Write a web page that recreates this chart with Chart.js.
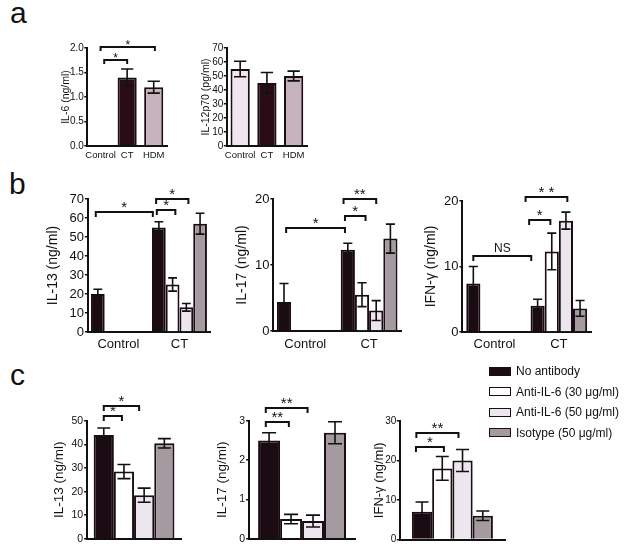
<!DOCTYPE html>
<html>
<head>
<meta charset="utf-8">
<script src="https://cdn.jsdelivr.net/npm/chart.js@4.4.0/dist/chart.umd.min.js"></script>
<style>
body { margin: 0; background: #fff; width: 626px; height: 553px; position: relative; overflow: hidden; font-family: "Liberation Sans", Arial, sans-serif; color: #111; }
canvas { position: absolute; }
.panel { position: absolute; font-size: 30px; line-height: 1; }
.legend { position: absolute; left: 489px; top: 361px; font-size: 12px; z-index: 2; }
.row { height: 20.5px; display: flex; align-items: center; }
.box { width: 20px; height: 7px; border: 1.5px solid #1b0b12; margin-right: 5px; }
</style>
</head>
<body>
<div class="panel" style="left:10px;top:-2px">a</div>
<div class="panel" style="left:9px;top:169px">b</div>
<div class="panel" style="left:10px;top:360px">c</div>
<div class="legend" id="legend"></div>
<script>
// panel a
var aCategories = ['Control', 'CT', 'HDM'];
var il6Values = [0, 1.4, 1.2];
var il6Errors = [0, 0.17, 0.12];
var il12Values = [55, 45, 50];
var il12Errors = [5.5, 7.5, 3.5];
var aColors = ['#f1e5ee', '#2a0c17', '#c7b3bb'];

// panels b and c
var treatments = ['No antibody', 'Anti-IL-6 (30 \u03bcg/ml)', 'Anti-IL-6 (50 \u03bcg/ml)', 'Isotype (50 \u03bcg/ml)'];
var colors = ['#1b0b12', '#ffffff', '#ece7ef', '#a59a9f'];
var bCategories = ['Control', 'CT'];
var il13B = [[20, 55], [null, 25], [null, 13], [null, 57]];
var il13BErr = [[2.5, 3], [0, 3.5], [0, 2], [0, 5.5]];
var il17B = [[4.4, 12.3], [null, 5.5], [null, 3.1], [null, 14]];
var il17BErr = [[2.8, 1], [0, 1.8], [0, 1.5], [0, 2.2]];
var ifnB = [[7.4, 4], [null, 12.3], [null, 17], [null, 3.6]];
var ifnBErr = [[2.6, 1], [0, 2.8], [0, 1.3], [0, 1.2]];

var cCategories = [''];
var il13C = [[44], [28.5], [18.5], [40.5]];
var il13CErr = [[3], [3], [3], [2]];
var il17C = [[2.5], [0.5], [0.45], [2.7]];
var il17CErr = [[0.2], [0.12], [0.15], [0.28]];
var ifnC = [[7], [18], [20], [6]];
var ifnCErr = [[2.5], [3], [2.8], [1.2]];

var ink = '#111';

var errorBars = {
  id: 'errorBars',
  afterDatasetsDraw: function(chart) {
    var ctx = chart.ctx, y = chart.scales.y;
    ctx.save();
    ctx.strokeStyle = ink;
    ctx.lineWidth = 1.6;
    chart.data.datasets.forEach(function(ds, di) {
      chart.getDatasetMeta(di).data.forEach(function(bar, i) {
        var v = ds.data[i], e = ds.errors[i];
        if (v == null || !e) return;
        var top = y.getPixelForValue(v + e), bot = y.getPixelForValue(v - e), cap = bar.width * 0.32;
        ctx.beginPath();
        ctx.moveTo(bar.x, top); ctx.lineTo(bar.x, bot);
        ctx.moveTo(bar.x - cap, top); ctx.lineTo(bar.x + cap, top);
        ctx.moveTo(bar.x - cap, bot); ctx.lineTo(bar.x + cap, bot);
        ctx.stroke();
      });
    });
    ctx.restore();
  }
};

function barX(chart, ref) {
  var bar = chart.getDatasetMeta(ref[0]).data[ref[1]];
  return bar.x + (ref[2] || 0) * bar.width;
}

var brackets = {
  id: 'brackets',
  afterDraw: function(chart, args, opts) {
    var ctx = chart.ctx, y = chart.scales.y;
    ctx.save();
    ctx.strokeStyle = ink;
    ctx.fillStyle = ink;
    ctx.lineWidth = opts.width;
    ctx.textAlign = 'center';
    ctx.textBaseline = 'alphabetic';
    opts.list.forEach(function(b) {
      var x1 = barX(chart, b.from), x2 = barX(chart, b.to);
      var yy = Math.round(y.getPixelForValue(b.at));
      ctx.beginPath();
      ctx.moveTo(x1, yy + opts.drop); ctx.lineTo(x1, yy); ctx.lineTo(x2, yy); ctx.lineTo(x2, yy + opts.drop);
      ctx.stroke();
      if (b.label == 'NS') {
        ctx.font = '12px "Liberation Sans", Arial';
        ctx.fillText(b.label, (x1 + x2) / 2, yy - 4);
      } else {
        ctx.font = opts.star + 'px "Liberation Sans", Arial';
        ctx.fillText(b.label, (x1 + x2) / 2, yy + opts.starDy);
      }
    });
    ctx.restore();
  }
};

function makeChart(c) {
  var titleLh = c.titleSize * 1.2;
  var left = c.titleX - titleLh / 2;
  var yW = c.plot[0] - left;
  var top = c.plot[1] - c.padTop;
  var canvas = document.createElement('canvas');
  canvas.width = Math.round(c.plot[2] - left + 4);
  canvas.height = Math.round(c.plot[3] - top + c.xH);
  canvas.style.left = left + 'px';
  canvas.style.top = top + 'px';
  document.body.appendChild(canvas);
  new Chart(canvas, {
    type: 'bar',
    data: { labels: c.labels, datasets: c.datasets },
    options: {
      responsive: false,
      animation: false,
      layout: { padding: { top: c.padTop, right: 4, left: 0, bottom: 0 } },
      plugins: {
        legend: { display: false },
        tooltip: { enabled: false },
        brackets: { list: c.brackets, width: 2, drop: c.drop || 5, star: c.star, starDy: c.starDy }
      },
      scales: {
        x: {
          grid: { display: false, drawTicks: false },
          border: { color: ink, width: 2 },
          ticks: { display: c.showX, color: ink, padding: c.xPad, font: c.xFont,
                   maxRotation: 0, minRotation: 0, autoSkip: false },
          afterFit: function(s) { s.height = c.xH; }
        },
        y: {
          min: 0, max: c.max,
          grid: { drawOnChartArea: false, color: ink, lineWidth: 1.5, tickLength: 3 },
          border: { color: ink, width: 2 },
          ticks: { stepSize: c.step, color: ink, padding: c.tickPad || 1, font: c.tickFont, autoSkip: false,
                   callback: c.fmt || function(v) { return v; } },
          title: { display: true, text: c.title, color: ink, padding: 0,
                   font: { family: '"Liberation Sans", Arial', size: c.titleSize } },
          afterFit: function(s) { s.width = yW; }
        }
      }
    },
    plugins: [errorBars, brackets]
  });
}

function groupSets(values, errors, cp) {
  return values.map(function(v, k) {
    return { label: treatments[k], data: v, errors: errors[k], backgroundColor: colors[k],
             borderColor: '#1b0b12', borderWidth: 2, borderSkipped: 'start',
             categoryPercentage: cp, barPercentage: 1 };
  });
}

function aSet(values, errors) {
  return [{ data: values, errors: errors, backgroundColor: aColors, borderColor: '#1b0b12',
            borderWidth: 2, borderSkipped: 'start', categoryPercentage: 0.72, barPercentage: 1 }];
}

var narrow = { family: '"Liberation Sans Narrow", "Arial Narrow", "Liberation Sans", Arial', size: 10 };
var narrowX = { family: '"Liberation Sans Narrow", "Arial Narrow", "Liberation Sans", Arial', size: 9.5 };
var bTick = { family: '"Liberation Sans", Arial', size: 13 };
var cTick = { family: '"Liberation Sans", Arial', size: 10.5 };

// a
makeChart({ plot: [87, 48, 167, 146], titleX: 66, titleSize: 10.5, title: 'IL-6 (ng/ml)', padTop: 14, xH: 20,
  labels: aCategories, datasets: aSet(il6Values, il6Errors), max: 2, step: 0.5,
  fmt: function(v) { return v.toFixed(1); }, tickFont: narrow, tickPad: 0.5, showX: true, xPad: 4, xFont: narrowX,
  star: 12, starDy: 2, drop: 4,
  brackets: [{ from: [0, 0, 0.19], to: [0, 1, 0], at: 1.755, label: '*' },
             { from: [0, 0, 0], to: [0, 2, 0.06], at: 2.02, label: '*' }] });
makeChart({ plot: [227, 48, 307, 146], titleX: 206.5, titleSize: 10.5, title: 'IL-12p70 (pg/ml)', padTop: 14, xH: 20,
  labels: aCategories, datasets: aSet(il12Values, il12Errors), max: 70, step: 10,
  tickFont: narrow, tickPad: 0.5, showX: true, xPad: 4, xFont: narrowX, star: 12, starDy: 2, brackets: [] });

// b
makeChart({ plot: [88, 199, 210, 332], titleX: 53.5, titleSize: 14, title: 'IL-13 (ng/ml)', padTop: 28, xH: 25,
  labels: bCategories, datasets: groupSets(il13B, il13BErr, 0.9), max: 70, step: 10,
  tickFont: bTick, showX: true, xPad: 5, xFont: bTick, star: 15, starDy: 0,
  brackets: [{ from: [0, 0, -0.15], to: [0, 1, -0.44], at: 63.2, label: '*' },
             { from: [0, 1, -0.15], to: [1, 1, 0.2], at: 64.2, label: '*' },
             { from: [0, 1, -0.2], to: [2, 1, 0.15], at: 70, label: '*' }] });
makeChart({ plot: [273, 199, 401, 331], titleX: 242, titleSize: 14, title: 'IL-17 (ng/ml)', padTop: 28, xH: 26,
  labels: bCategories, datasets: groupSets(il17B, il17BErr, 0.89), max: 20, step: 10,
  tickFont: bTick, showX: true, xPad: 6, xFont: bTick, star: 15, starDy: 0,
  brackets: [{ from: [0, 0, 0.15], to: [0, 1, -0.2], at: 15.6, label: '*' },
             { from: [0, 1, -0.2], to: [1, 1, 0.25], at: 17.4, label: '*' },
             { from: [0, 1, -0.3], to: [2, 1, 0], at: 20, label: '**' }] });
makeChart({ plot: [462, 201, 591, 332], titleX: 431, titleSize: 14, title: 'IFN-\u03b3 (ng/ml)', padTop: 28, xH: 25,
  labels: bCategories, datasets: groupSets(ifnB, ifnBErr, 0.88), max: 20, step: 10,
  tickFont: bTick, showX: true, xPad: 5, xFont: bTick, star: 15, starDy: 0,
  brackets: [{ from: [0, 0, 0], to: [0, 1, -0.45], at: 11.6, label: 'NS' },
             { from: [0, 1, -0.6], to: [1, 1, -0.1], at: 17.1, label: '*' },
             { from: [0, 1, -0.85], to: [2, 1, 0.1], at: 20.6, label: '* *' }] });

// c
makeChart({ plot: [87, 421, 181, 542], titleX: 59, titleSize: 13.5, title: 'IL-13 (ng/ml)', padTop: 30, xH: 4,
  labels: cCategories, datasets: groupSets(il13C, il13CErr, 0.86), max: 50, step: 10,
  tickFont: cTick, showX: false, xPad: 0, star: 15, starDy: 0,
  brackets: [{ from: [0, 0, 0], to: [1, 0, -0.1], at: 52, label: '*' },
             { from: [0, 0, 0], to: [2, 0, -0.25], at: 56.2, label: '*' }] });
makeChart({ plot: [249, 421, 355, 542], titleX: 222, titleSize: 13.5, title: 'IL-17 (ng/ml)', padTop: 30, xH: 4,
  labels: cCategories, datasets: groupSets(il17C, il17CErr, 0.83), max: 3, step: 1,
  tickFont: cTick, showX: false, xPad: 0, star: 15, starDy: 0,
  brackets: [{ from: [0, 0, -0.15], to: [1, 0, -0.1], at: 2.98, label: '**' },
             { from: [0, 0, -0.15], to: [2, 0, -0.25], at: 3.32, label: '**' }] });
makeChart({ plot: [400, 421, 505, 542], titleX: 380, titleSize: 13, title: 'IFN-\u03b3 (ng/ml)', padTop: 30, xH: 4,
  labels: cCategories, datasets: groupSets(ifnC, ifnCErr, 0.77), max: 30, step: 10,
  tickFont: { family: '"Liberation Sans", Arial', size: 10 }, tickPad: 0.5, showX: false, xPad: 0, star: 15, starDy: 0,
  brackets: [{ from: [0, 0, -0.3], to: [1, 0, 0.08], at: 23.3, label: '*' },
             { from: [0, 0, -0.28], to: [2, 0, -0.2], at: 27, label: '**' }] });

// legend
var legend = document.getElementById('legend');
treatments.forEach(function(t, k) {
  var row = document.createElement('div');
  row.className = 'row';
  row.innerHTML = '<div class="box" style="background:' + colors[k] + '"></div><span>' + t + '</span>';
  legend.appendChild(row);
});
</script>
</body>
</html>
